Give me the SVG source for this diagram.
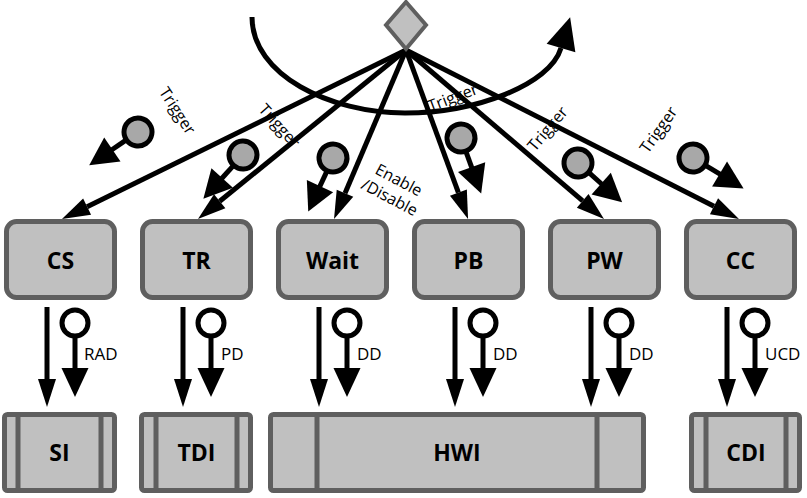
<svg xmlns="http://www.w3.org/2000/svg" xmlns:xlink="http://www.w3.org/1999/xlink" width="807" height="498" viewBox="0 0 807 498">
<style>
.box{fill:#c0c0c0;stroke:#5f5f5f;stroke-width:5}
.div{fill:none;stroke:#5f5f5f;stroke-width:5}
.lbl{font-family:"Open Sans","Liberation Sans",sans-serif;font-weight:bold;font-size:23px;text-anchor:middle;fill:#000}
.sm{font-family:"Open Sans","Liberation Sans",sans-serif;font-size:16px;fill:#000}
.bl{font-family:"Open Sans","Liberation Sans",sans-serif;font-size:17px;fill:#000}
.rot{text-anchor:middle}
.edge{fill:none;stroke:#000;stroke-width:5}
</style>
<defs>
<marker id="ah" markerUnits="userSpaceOnUse" viewBox="0 -9 28 18" refX="0" refY="0" markerWidth="28" markerHeight="18" orient="auto" overflow="visible"><path d="M0,-9 L28,0 L0,9 Z" fill="#000"/></marker>
<marker id="big" markerUnits="userSpaceOnUse" viewBox="0 -15 32 30" refX="0" refY="0" markerWidth="32" markerHeight="30" orient="auto" overflow="visible"><path d="M0,-15 L32,0 L0,15 Z" fill="#000"/></marker>
<g id="ev"><line x1="0" y1="15" x2="0" y2="32" stroke="#000" stroke-width="5"/><polygon points="0,59 -14.5,31 14.5,31" fill="#000"/><circle r="14" fill="#a8a8a8" stroke="#000" stroke-width="5"/></g>
<g id="lp"><line x1="0" y1="14" x2="0" y2="46" stroke="#000" stroke-width="5"/><polygon points="0,74 -13.5,45 13.5,45" fill="#000"/><circle r="13" fill="#fff" stroke="#000" stroke-width="5"/></g>
</defs>

<g id="labels">
<text class="sm rot" transform="translate(177,111) rotate(57)" y="5">Trigger</text>
<text class="sm rot" transform="translate(279,126) rotate(48)" y="5">Trigger</text>
<text class="sm rot" transform="translate(453,98) rotate(-21)" y="5">Trigger</text>
<text class="sm rot" transform="translate(548,129) rotate(-50)" y="5">Trigger</text>
<text class="sm rot" transform="translate(659,130) rotate(-55)" y="5">Trigger</text>
<g transform="translate(394,189) rotate(28)"><text class="sm rot" y="-4.6">Enable</text><text class="sm rot" y="15">/Disable</text></g>
<text class="bl" x="84" y="360">RAD</text>
<text class="bl" x="221" y="360">PD</text>
<text class="bl" x="357" y="360">DD</text>
<text class="bl" x="493" y="360">DD</text>
<text class="bl" x="629" y="360">DD</text>
<text class="bl" x="765" y="360">UCD</text>
</g>

<g id="connectors">
<path class="edge" d="M252,17 C252,75 330,113 405,113 C475,113 550,85 561,48" marker-end="url(#big)"/>
<path class="edge" d="M406,50 L87.1,206.7" marker-end="url(#ah)"/>
<path class="edge" d="M406,50 L219.7,201.3" marker-end="url(#ah)"/>
<path class="edge" d="M406,50 L345,193.2" marker-end="url(#ah)"/>
<path class="edge" d="M406,50 L458.4,192.7" marker-end="url(#ah)"/>
<path class="edge" d="M406,50 L582.7,200.8" marker-end="url(#ah)"/>
<path class="edge" d="M406,50 L714,206.3" marker-end="url(#ah)"/>
<path class="edge" d="M47,307 L47,379" marker-end="url(#ah)"/>
<path class="edge" d="M183,307 L183,379" marker-end="url(#ah)"/>
<path class="edge" d="M319,307 L319,379" marker-end="url(#ah)"/>
<path class="edge" d="M455,307 L455,379" marker-end="url(#ah)"/>
<path class="edge" d="M591,307 L591,379" marker-end="url(#ah)"/>
<path class="edge" d="M727,307 L727,379" marker-end="url(#ah)"/>
<use xlink:href="#lp" href="#lp" x="75" y="323"/>
<use xlink:href="#lp" href="#lp" x="211" y="323"/>
<use xlink:href="#lp" href="#lp" x="347" y="323"/>
<use xlink:href="#lp" href="#lp" x="483" y="323"/>
<use xlink:href="#lp" href="#lp" x="619" y="323"/>
<use xlink:href="#lp" href="#lp" x="755" y="323"/>
<use xlink:href="#ev" href="#ev" transform="translate(138,132) rotate(55.8)"/>
<use xlink:href="#ev" href="#ev" transform="translate(243,155) rotate(42.2)"/>
<use xlink:href="#ev" href="#ev" transform="translate(333,158) rotate(24.8)"/>
<use xlink:href="#ev" href="#ev" transform="translate(461,138) rotate(-20)"/>
<use xlink:href="#ev" href="#ev" transform="translate(578,163) rotate(-48.4)"/>
<use xlink:href="#ev" href="#ev" transform="translate(693,158) rotate(-59)"/>
</g>

<g id="decision"><polygon points="406,2 426,25 406,49 386,25" fill="#c0c0c0" stroke="#5f5f5f" stroke-width="4"/></g>

<g id="CS"><rect class="box" x="6.5" y="221.5" width="108" height="76" rx="10"/><text class="lbl" x="60.5" y="269">CS</text></g>
<g id="TR"><rect class="box" x="142.5" y="221.5" width="108" height="76" rx="10"/><text class="lbl" x="196.5" y="269">TR</text></g>
<g id="Wait"><rect class="box" x="278.5" y="221.5" width="108" height="76" rx="10"/><text class="lbl" x="332.5" y="269">Wait</text></g>
<g id="PB"><rect class="box" x="414.5" y="221.5" width="108" height="76" rx="10"/><text class="lbl" x="468.5" y="269">PB</text></g>
<g id="PW"><rect class="box" x="550.5" y="221.5" width="108" height="76" rx="10"/><text class="lbl" x="604.5" y="269">PW</text></g>
<g id="CC"><rect class="box" x="686.5" y="221.5" width="108" height="76" rx="10"/><text class="lbl" x="740.5" y="269">CC</text></g>

<g id="SI"><rect class="box" x="4.5" y="414.5" width="110" height="76" rx="3"/><path class="div" d="M18,414.5 V490.5 M101,414.5 V490.5"/><text class="lbl" x="59.5" y="461">SI</text></g>
<g id="TDI"><rect class="box" x="141.5" y="414.5" width="109" height="76" rx="3"/><path class="div" d="M156,414.5 V490.5 M237,414.5 V490.5"/><text class="lbl" x="196.5" y="461">TDI</text></g>
<g id="HWI"><rect class="box" x="270.5" y="414.5" width="373" height="76" rx="3"/><path class="div" d="M317,414.5 V490.5 M597,414.5 V490.5"/><text class="lbl" x="457" y="461">HWI</text></g>
<g id="CDI"><rect class="box" x="691.5" y="414.5" width="108" height="76" rx="3"/><path class="div" d="M706,414.5 V490.5 M786,414.5 V490.5"/><text class="lbl" x="746" y="461">CDI</text></g>
</svg>
